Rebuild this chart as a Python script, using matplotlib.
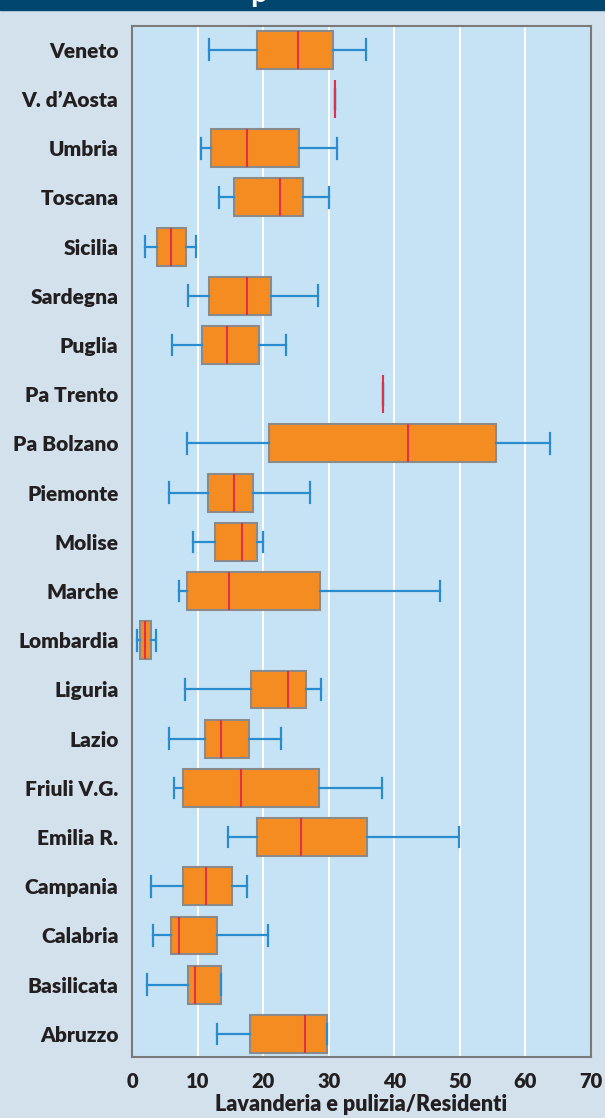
import matplotlib.pyplot as plt
import matplotlib.patches as mpatches

# regioni, dall'alto verso il basso
regioni = ["Veneto", "V. d\u2019Aosta", "Umbria", "Toscana", "Sicilia", "Sardegna",
           "Puglia", "Pa Trento", "Pa Bolzano", "Piemonte", "Molise", "Marche",
           "Lombardia", "Liguria", "Lazio", "Friuli V.G.", "Emilia R.", "Campania",
           "Calabria", "Basilicata", "Abruzzo"]

# statistiche (Lavanderia e pulizia / Residenti)
minimo  = [11.7, 30.9, 10.5, 13.3, 2.0, 8.5, 6.0, 38.3, 8.4, 5.6, 9.2, 7.2,
           0.66, 8.0, 5.6, 6.4, 14.6, 2.8, 3.2, 2.3, 13.0]
q1      = [19.1, 30.9, 12.0, 15.6, 3.7, 11.7, 10.7, 38.3, 20.8, 11.5, 12.7, 8.3,
           1.1, 18.1, 11.1, 7.7, 19.1, 7.7, 5.9, 8.5, 17.9]
mediana = [25.3, 30.9, 17.5, 22.5, 5.9, 17.5, 14.4, 38.3, 42.1, 15.6, 16.8, 14.8,
           1.9, 23.7, 13.5, 16.6, 25.7, 11.3, 7.2, 9.6, 26.3]
q3      = [30.7, 30.9, 25.5, 26.1, 8.2, 21.2, 19.4, 38.3, 55.5, 18.4, 19.0, 28.7,
           2.8, 26.5, 17.8, 28.5, 35.8, 15.3, 12.9, 13.5, 29.7]
massimo = [35.7, 30.9, 31.2, 30.0, 9.7, 28.4, 23.5, 38.3, 63.8, 27.2, 19.9, 47.0,
           3.55, 28.8, 22.7, 38.2, 49.9, 17.5, 20.7, 13.5, 29.7]

xticks = [0, 10, 20, 30, 40, 50, 60, 70]

stats = []
for i in range(len(regioni)):
    stats.append(dict(label=regioni[i], whislo=minimo[i], q1=q1[i], med=mediana[i],
                      q3=q3[i], whishi=massimo[i], fliers=[]))

fig = plt.figure(figsize=(6.05, 11.18), dpi=100)
fig.patch.set_facecolor('#d3e1ec')

# banda del titolo in alto (il titolo è tagliato, si vede solo la coda della "p")
fig.patches.append(mpatches.Rectangle((0, 1 - 10 / 1118), 1, 10 / 1118,
                                      transform=fig.transFigure, color='#00466e'))
fig.text(0.414, 1 - 2 / 1118, 'p', color='white', fontsize=22, fontweight='bold',
         family='Lato', va='baseline')

ax = fig.add_axes([132.3 / 605, 1 - 1057 / 1118, 458.4 / 605, 1031.3 / 1118])
ax.set_facecolor('#c6e3f5')

ax.bxp(stats, positions=range(len(regioni)), vert=False, widths=0.77,
       patch_artist=True, showfliers=False,
       boxprops=dict(facecolor='#f58c22', edgecolor='#8a8a8a', linewidth=1.5),
       medianprops=dict(color='#e0304a', linewidth=1.5),
       whiskerprops=dict(color='#2a8ccc', linewidth=1.6),
       capprops=dict(color='#2a8ccc', linewidth=1.6),
       capwidths=0.42, zorder=3)

ax.set_xlim(0, 70)
ax.set_ylim(20.47, -0.49)
ax.set_xticks(xticks)
ax.set_xticklabels([str(t) for t in xticks])
ax.set_yticks(range(len(regioni)))
ax.set_yticklabels(regioni)
ax.grid(axis='x', color='white', linewidth=1.4, zorder=0)
ax.set_axisbelow(True)
ax.tick_params(axis='y', length=0, pad=10)
ax.tick_params(axis='x', length=0, pad=11)
for lab in ax.get_yticklabels():
    lab.set_fontsize(15)
for lab in ax.get_xticklabels():
    lab.set_fontsize(14.5)
for lab in ax.get_xticklabels() + ax.get_yticklabels():
    lab.set_fontfamily('Lato')
    lab.set_fontweight('heavy')
    lab.set_color('#231f20')
for sp in ax.spines.values():
    sp.set_color('#7a7a7a')
    sp.set_linewidth(1.5)

ax.set_xlabel("Lavanderia e pulizia/Residenti", fontfamily='Lato', fontweight='heavy',
              fontsize=15.5, color='#231f20', labelpad=2)

fig.savefig('out.png', dpi=100, facecolor=fig.get_facecolor())
